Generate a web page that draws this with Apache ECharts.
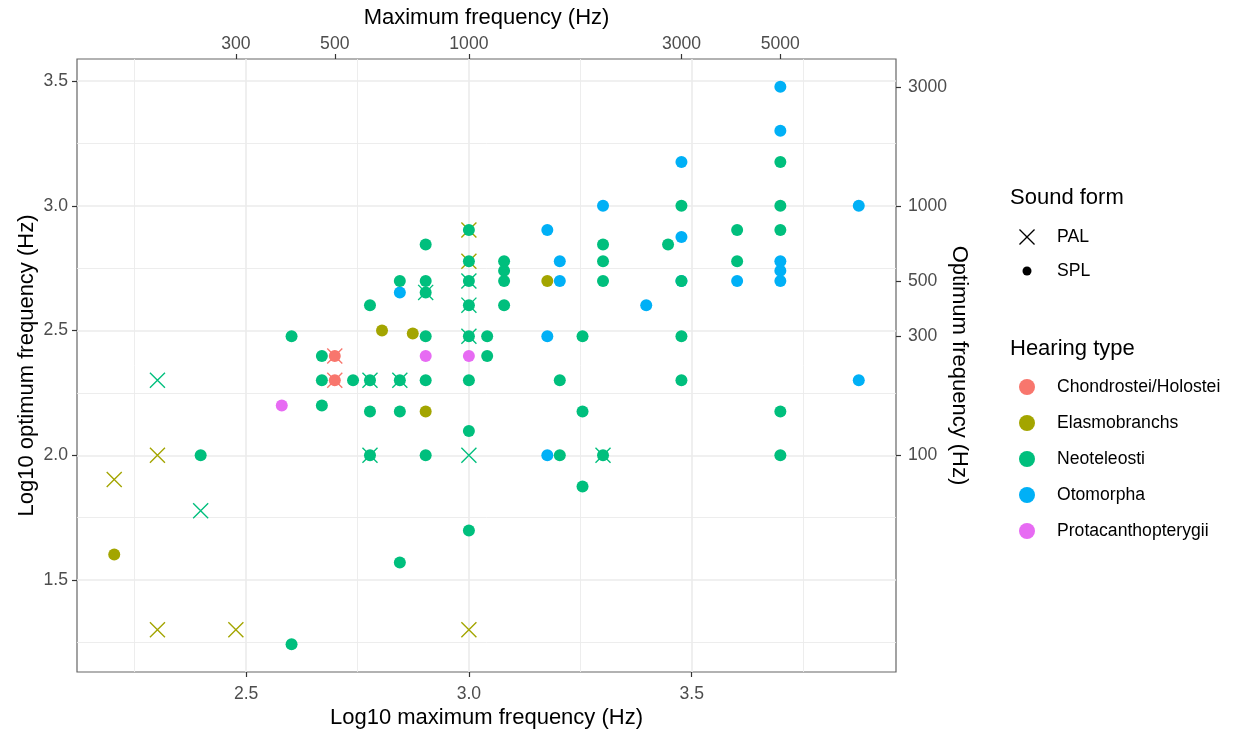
<!DOCTYPE html>
<html>
<head>
<meta charset="utf-8">
<script src="https://cdn.jsdelivr.net/npm/echarts@6/dist/echarts.min.js"></script>
<style>
  html, body { margin: 0; padding: 0; background: #fff; }
  #chart { width: 1245px; height: 734px; }
</style>
</head>
<body>
<div id="chart"></div>
<script>
// Hearing groups and their colours
const hearingTypes = ['Chondrostei/Holostei', 'Elasmobranchs', 'Neoteleosti', 'Otomorpha', 'Protacanthopterygii'];
const hearingColors = ['#F8766D', '#A3A500', '#00BF7D', '#00B0F6', '#E76BF3'];
const soundForms = ['PAL', 'SPL'];

// Points as [log10 maximum frequency, log10 optimum frequency]
const chondrosteiPAL = [[2.699, 2.398], [2.699, 2.301]];
const chondrosteiSPL = [[2.699, 2.398], [2.699, 2.301]];

const elasmobranchsPAL = [[2.204, 1.903], [2.301, 2.0], [2.301, 1.301], [2.477, 1.301], [3.0, 1.301], [3.0, 2.903], [3.0, 2.778]];
const elasmobranchsSPL = [[2.204, 1.602], [2.805, 2.5], [2.874, 2.488], [2.903, 2.176], [3.176, 2.699]];

const neoteleostiPAL = [[2.301, 2.301], [2.398, 1.778], [2.778, 2.301], [2.778, 2.0], [2.845, 2.301], [2.903, 2.653],
  [3.0, 2.699], [3.0, 2.602], [3.0, 2.477], [3.0, 2.0], [3.301, 2.0]];
const neoteleostiSPL = [[2.398, 2.0], [2.602, 2.477], [2.602, 1.243], [2.67, 2.398], [2.67, 2.301], [2.67, 2.2],
  [2.74, 2.301], [2.778, 2.301], [2.778, 2.602], [2.778, 2.176], [2.778, 2.0], [2.845, 2.699], [2.845, 2.301],
  [2.845, 2.176], [2.845, 1.57], [2.903, 2.845], [2.903, 2.699], [2.903, 2.653], [2.903, 2.477], [2.903, 2.301],
  [2.903, 2.0], [3.0, 2.903], [3.0, 2.778], [3.0, 2.699], [3.0, 2.602], [3.0, 2.477], [3.0, 2.301], [3.0, 2.097],
  [3.0, 1.699], [3.041, 2.477], [3.041, 2.398], [3.079, 2.778], [3.079, 2.74], [3.079, 2.699], [3.079, 2.602],
  [3.255, 2.477], [3.204, 2.301], [3.204, 2.0], [3.255, 2.176], [3.255, 1.875], [3.301, 2.0], [3.301, 2.845],
  [3.301, 2.778], [3.301, 2.699], [3.447, 2.845], [3.477, 3.0], [3.477, 2.699], [3.477, 2.477], [3.477, 2.301],
  [3.602, 2.903], [3.602, 2.778], [3.699, 3.176], [3.699, 3.0], [3.699, 2.903], [3.699, 2.176], [3.699, 2.0]];

const otomorphaSPL = [[2.845, 2.653], [3.176, 2.903], [3.176, 2.477], [3.176, 2.0], [3.204, 2.778], [3.204, 2.699],
  [3.301, 3.0], [3.398, 2.602], [3.477, 3.176], [3.477, 2.875], [3.477, 2.699], [3.602, 2.699], [3.699, 3.477],
  [3.699, 3.301], [3.699, 2.778], [3.699, 2.74], [3.699, 2.699], [3.875, 3.0], [3.875, 2.301]];

const protacanthopterygiiSPL = [[2.58, 2.2], [2.903, 2.398], [3.0, 2.398]];

// Tick labels
const bottomTicks = [2.5, 3.0, 3.5];
const leftTicks = [1.5, 2.0, 2.5, 3.0, 3.5];
const topTicksHz = [300, 500, 1000, 3000, 5000];
const rightTicksHz = [100, 300, 500, 1000, 3000];
const xMinorGrid = [2.25, 2.75, 3.25, 3.75];
const yMinorGrid = [1.25, 1.75, 2.25, 2.75, 3.25];

const FONT = '"Liberation Sans", Arial, Helvetica, sans-serif';
const CROSS = 'path://M6 0L100 94L94 100L0 6Z M94 0L100 6L6 100L0 94Z';

// Axis limits: data range expanded by 5% on each side
const allPoints = [].concat(chondrosteiPAL, chondrosteiSPL, elasmobranchsPAL, elasmobranchsSPL,
  neoteleostiPAL, neoteleostiSPL, otomorphaSPL, protacanthopterygiiSPL);
function expandedRange(idx) {
  const vals = allPoints.map(p => p[idx]);
  const lo = Math.min.apply(null, vals), hi = Math.max.apply(null, vals);
  const pad = (hi - lo) * 0.05;
  return [lo - pad, hi + pad];
}
const xRange = expandedRange(0);
const yRange = expandedRange(1);

const colorOf = name => hearingColors[hearingTypes.indexOf(name)];

function palSeries(name, data) {
  return { type: 'scatter', name, data, symbol: CROSS, symbolSize: 16, z: 2,
    itemStyle: { color: colorOf(name), opacity: 1 }, xAxisIndex: 0, yAxisIndex: 0 };
}
function splSeries(name, data) {
  return { type: 'scatter', name, data, symbol: 'circle', symbolSize: 12, z: 3,
    itemStyle: { color: colorOf(name), opacity: 1 }, xAxisIndex: 0, yAxisIndex: 0 };
}

const series = [
  palSeries('Elasmobranchs', elasmobranchsPAL),
  palSeries('Neoteleosti', neoteleostiPAL),
  palSeries('Chondrostei/Holostei', chondrosteiPAL),
  splSeries('Chondrostei/Holostei', chondrosteiSPL),
  splSeries('Elasmobranchs', elasmobranchsSPL),
  splSeries('Otomorpha', otomorphaSPL),
  splSeries('Protacanthopterygii', protacanthopterygiiSPL),
  splSeries('Neoteleosti', neoteleostiSPL),
  // legend keys for the sound form
  { type: 'scatter', name: soundForms[0], data: [], symbol: CROSS, itemStyle: { color: '#000', opacity: 1 } },
  { type: 'scatter', name: soundForms[1], data: [], symbol: 'circle', itemStyle: { color: '#000', opacity: 1 } }
];

const tickLabel = { color: '#4D4D4D', fontSize: 17.6, fontFamily: FONT };
const axisTitle = { color: '#000', fontSize: 22, fontFamily: FONT };
const tickStyle = { show: true, length: 5, lineStyle: { color: '#333', width: 1.2 } };
const majorGrid = { show: true, lineStyle: { color: '#EBEBEB', width: 1.6 } };
const minorGrid = { show: true, lineStyle: { color: '#EBEBEB', width: 0.9 } };
const hz = v => String(Math.round(Math.pow(10, v)));
const legendText = { fontSize: 17.6, color: '#000', fontFamily: FONT, lineHeight: 20 };

const option = {
  animation: false,
  backgroundColor: '#fff',
  textStyle: { fontFamily: FONT },
  grid: { left: 77, right: 349, top: 59, bottom: 62, show: true, borderColor: '#666', borderWidth: 1.2, backgroundColor: '#fff' },
  xAxis: [
    { type: 'value', position: 'bottom', min: xRange[0], max: xRange[1],
      name: 'Log10 maximum frequency (Hz)', nameLocation: 'middle', nameGap: 35, nameMoveOverlap: false, nameTextStyle: axisTitle,
      axisLine: { show: false }, axisTick: Object.assign({ customValues: bottomTicks }, tickStyle),
      axisLabel: Object.assign({ customValues: bottomTicks, margin: 13, formatter: v => v.toFixed(1) }, tickLabel),
      splitLine: majorGrid },
    { type: 'value', position: 'top', min: xRange[0], max: xRange[1],
      name: 'Maximum frequency (Hz)', nameLocation: 'middle', nameGap: 30, nameMoveOverlap: false, nameTextStyle: axisTitle,
      axisLine: { show: false }, axisTick: Object.assign({ customValues: topTicksHz.map(Math.log10) }, tickStyle),
      axisLabel: Object.assign({ customValues: topTicksHz.map(Math.log10), margin: 6, formatter: hz }, tickLabel),
      splitLine: { show: false } },
    { type: 'value', position: 'bottom', min: xRange[0], max: xRange[1],
      axisLine: { show: false }, axisTick: { show: false, customValues: xMinorGrid },
      axisLabel: { show: false, customValues: xMinorGrid }, splitLine: minorGrid }
  ],
  yAxis: [
    { type: 'value', position: 'left', min: yRange[0], max: yRange[1],
      name: 'Log10 optimum frequency (Hz)', nameLocation: 'middle', nameGap: 39, nameMoveOverlap: false, nameTextStyle: axisTitle,
      axisLine: { show: false }, axisTick: Object.assign({ customValues: leftTicks }, tickStyle),
      axisLabel: Object.assign({ customValues: leftTicks, margin: 9, formatter: v => v.toFixed(1) }, tickLabel),
      splitLine: majorGrid },
    { type: 'value', position: 'right', min: yRange[0], max: yRange[1],
      name: 'Optimum frequency (Hz)', nameLocation: 'middle', nameRotate: -90, nameGap: 52, nameMoveOverlap: false, nameTextStyle: axisTitle,
      axisLine: { show: false }, axisTick: Object.assign({ customValues: rightTicksHz.map(Math.log10) }, tickStyle),
      axisLabel: Object.assign({ customValues: rightTicksHz.map(Math.log10), margin: 12, formatter: hz }, tickLabel),
      splitLine: { show: false } },
    { type: 'value', position: 'left', min: yRange[0], max: yRange[1],
      axisLine: { show: false }, axisTick: { show: false, customValues: yMinorGrid },
      axisLabel: { show: false, customValues: yMinorGrid }, splitLine: minorGrid }
  ],
  legend: [
    { orient: 'vertical', left: 1014, top: 222, itemWidth: 16, itemHeight: 16, selectedMode: false,
      data: [{ name: soundForms[0], icon: CROSS }],
      textStyle: Object.assign({ padding: [0, 0, 0, 17] }, legendText) },
    { orient: 'vertical', left: 1017.5, top: 256, itemWidth: 9, itemHeight: 9, selectedMode: false,
      data: [{ name: soundForms[1], icon: 'circle' }],
      textStyle: Object.assign({ padding: [0, 0, 0, 20.5] }, legendText) },
    { orient: 'vertical', left: 1014, top: 372, itemWidth: 16, itemHeight: 16, itemGap: 16, selectedMode: false,
      data: hearingTypes.map(n => ({ name: n, icon: 'circle' })),
      textStyle: Object.assign({ padding: [0, 0, 0, 17] }, legendText) }
  ],
  graphic: [
    { type: 'text', left: 1010, top: 187, style: { text: 'Sound form', fill: '#000', font: '22px ' + FONT } },
    { type: 'text', left: 1010, top: 338, style: { text: 'Hearing type', fill: '#000', font: '22px ' + FONT } }
  ],
  series
};

const chart = echarts.init(document.getElementById('chart'), null, { renderer: 'canvas' });
chart.setOption(option);
</script>
</body>
</html>
